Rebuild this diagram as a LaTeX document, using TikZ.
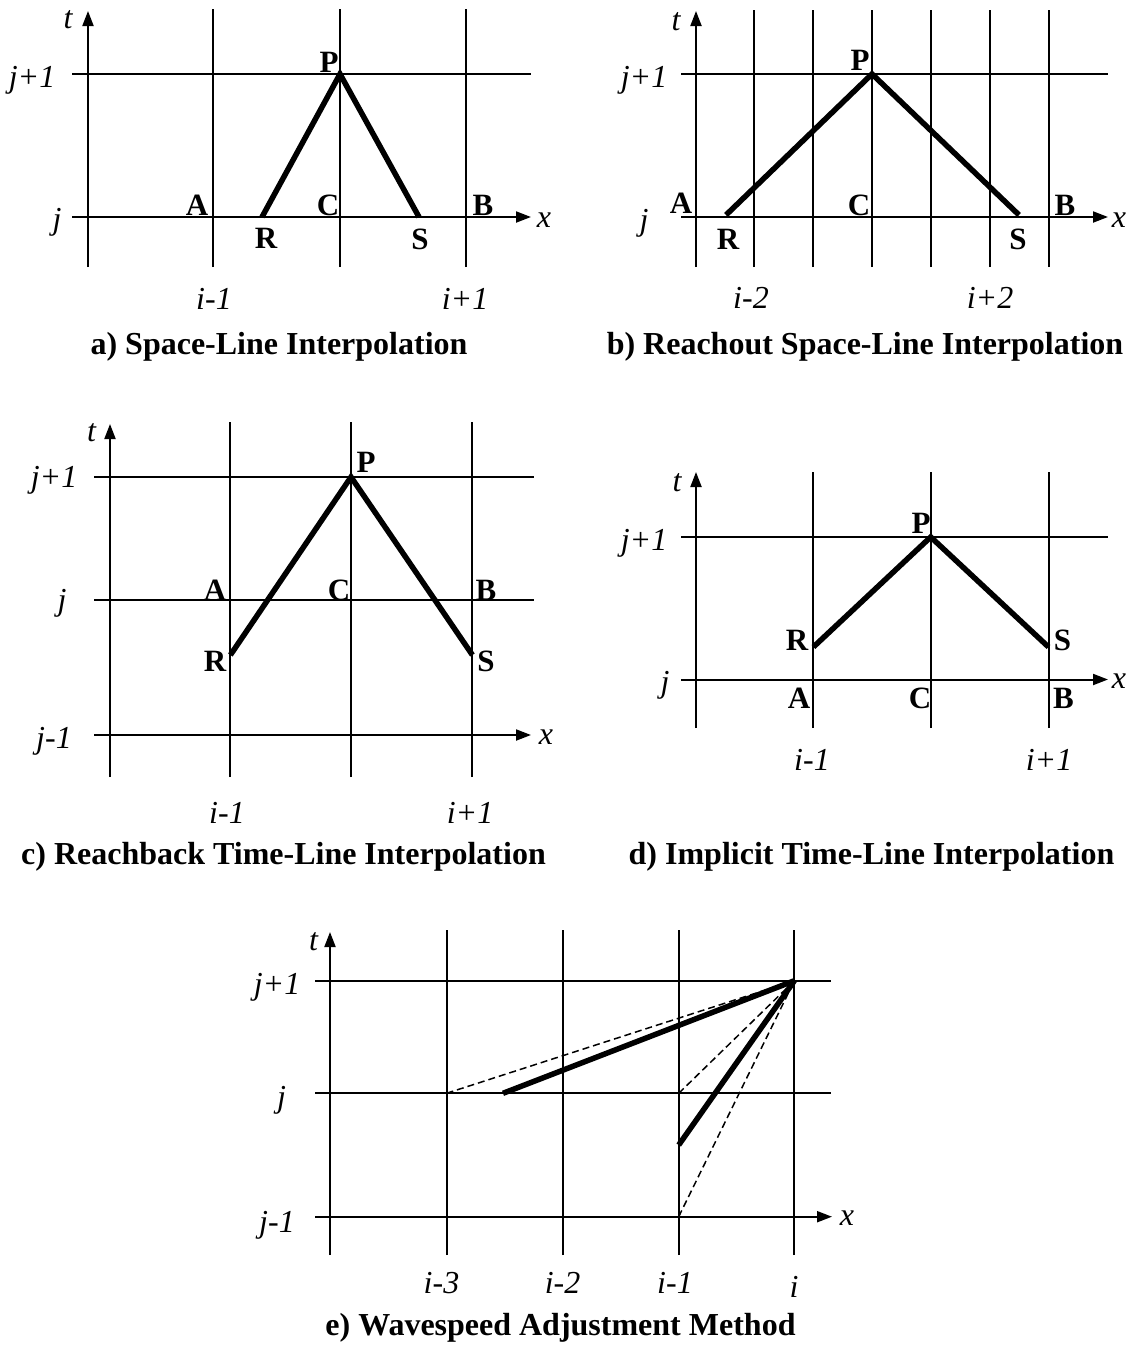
\documentclass[tikz,border=0pt]{standalone}
\usepackage{fontspec}
\setmainfont{Liberation Serif}
\usetikzlibrary{arrows.meta}
\begin{document}
\begin{tikzpicture}[x=1pt,y=-1pt,
  gridline/.style={line width=2pt},
  axisline/.style={line width=2pt,-{Triangle[length=15pt,width=11pt]}},
  charline/.style={line width=5.5pt},
  dashline/.style={line width=1.5pt,dash pattern=on 7pt off 4pt},
  lab/.style={inner sep=0pt,font=\fontsize{32}{32}\selectfont\itshape},
  ptlab/.style={inner sep=0pt,font=\fontsize{31}{31}\selectfont\bfseries},
  caplab/.style={inner sep=0pt,font=\fontsize{32}{32}\selectfont\bfseries}]
\useasboundingbox (0,0) rectangle (1131,1347);

% ---------------- a) ----------------
\foreach \x in {213,340,466} \draw[gridline] (\x,267) -- (\x,9);
\draw[gridline] (72,74) -- (531,74);
\draw[axisline] (88,267) -- (88,11);
\draw[axisline] (72,217) -- (531,217);
\coordinate (aP) at (340,74);
\coordinate (aR) at (262,217);
\coordinate (aS) at (419,217);
\draw[charline] (aR) -- (aP) -- (aS);
\node[lab] (at) at (68,20) {t};
\node[lab] (ajp) at (32,80) {j+1};
\node[lab] (aj) at (57,222) {j};
\node[lab] (ax) at (544,220) {x};
\node[ptlab] (aPl) at (329,62) {P};
\node[ptlab] (aA) at (197,205) {A};
\node[ptlab] (aC) at (328,205) {C};
\node[ptlab] (aB) at (483,205) {B};
\node[ptlab] (aRl) at (266,238) {R};
\node[ptlab] (aSl) at (420,239) {S};
\node[lab] (aim) at (214,299) {i-1};
\node[lab] (aip) at (465,299) {i+1};
\node[caplab] (acap) at (279,347) {a) Space-Line Interpolation};

% ---------------- b) ----------------
\foreach \x in {754,813,872,931,990,1049} \draw[gridline] (\x,267) -- (\x,10);
\draw[gridline] (681,74) -- (1108,74);
\draw[axisline] (696,267) -- (696,11);
\draw[axisline] (681,217) -- (1108,217);
\coordinate (bP) at (872,74);
\coordinate (bR) at (726,215);
\coordinate (bS) at (1019,215);
\draw[charline] (bR) -- (bP) -- (bS);
\node[lab] (bt) at (676,22) {t};
\node[lab] (bjp) at (644,80) {j+1};
\node[lab] (bj) at (644,223) {j};
\node[lab] (bx) at (1119,220) {x};
\node[ptlab] (bPl) at (860,60) {P};
\node[ptlab] (bA) at (681,203) {A};
\node[ptlab] (bC) at (859,205) {C};
\node[ptlab] (bB) at (1065,205) {B};
\node[ptlab] (bRl) at (728,239) {R};
\node[ptlab] (bSl) at (1018,239) {S};
\node[lab] (bim) at (751,298) {i-2};
\node[lab] (bip) at (990,298) {i+2};
\node[caplab] (bcap) at (865,347) {b) Reachout Space-Line Interpolation};

% ---------------- c) ----------------
\foreach \x in {230.4,351,472.4} \draw[gridline] (\x,777) -- (\x,422);
\draw[gridline] (94,477) -- (534,477);
\draw[gridline] (94,600) -- (534,600);
\draw[axisline] (110,777) -- (110,424);
\draw[axisline] (94,735) -- (531,735);
\coordinate (cP) at (351,477);
\coordinate (cR) at (230.4,655);
\coordinate (cS) at (472.4,655);
\draw[charline] (cR) -- (cP) -- (cS);
\node[lab] (ct) at (91.5,433) {t};
\node[lab] (cjp) at (54,480) {j+1};
\node[lab] (cj) at (62,603) {j};
\node[lab] (cjm) at (54,741) {j-1};
\node[lab] (cx) at (546,737) {x};
\node[ptlab] (cPl) at (366,462) {P};
\node[ptlab] (cA) at (215,590) {A};
\node[ptlab] (cC) at (339,590) {C};
\node[ptlab] (cB) at (486,590) {B};
\node[ptlab] (cRl) at (215,661) {R};
\node[ptlab] (cSl) at (486,661) {S};
\node[lab] (cim) at (227,813) {i-1};
\node[lab] (cip) at (470,813) {i+1};
\node[caplab] (ccap) at (283.5,857) {c) Reachback Time-Line Interpolation};

% ---------------- d) ----------------
\foreach \x in {813.4,930.7,1048.5} \draw[gridline] (\x,728) -- (\x,472);
\draw[gridline] (681,537) -- (1108,537);
\draw[axisline] (696,728) -- (696,472);
\draw[axisline] (681,679.5) -- (1108,679.5);
\coordinate (dP) at (930.7,537);
\coordinate (dR) at (813.4,647);
\coordinate (dS) at (1048.5,647);
\draw[charline] (dR) -- (dP) -- (dS);
\node[lab] (dt) at (677,483) {t};
\node[lab] (djp) at (644,543) {j+1};
\node[lab] (dj) at (665,685) {j};
\node[lab] (dx) at (1119,681) {x};
\node[ptlab] (dPl) at (921,523) {P};
\node[ptlab] (dRl) at (797,640) {R};
\node[ptlab] (dSl) at (1062.5,640) {S};
\node[ptlab] (dA) at (799,698) {A};
\node[ptlab] (dC) at (920,698) {C};
\node[ptlab] (dB) at (1063.5,698) {B};
\node[lab] (dim) at (812,760) {i-1};
\node[lab] (dip) at (1049,760) {i+1};
\node[caplab] (dcap) at (871.5,857) {d) Implicit Time-Line Interpolation};

% ---------------- e) ----------------
\foreach \x in {446.5,562.6,678.7,794.4} \draw[gridline] (\x,1255) -- (\x,930);
\draw[gridline] (315,980.7) -- (831,980.7);
\draw[gridline] (315,1093.3) -- (831,1093.3);
\draw[axisline] (330,1255) -- (330,932);
\draw[axisline] (315,1216.7) -- (832,1216.7);
\coordinate (eP) at (794.4,980.7);
\coordinate (eR1) at (503,1093.3);
\coordinate (eR2) at (678.7,1145);
\coordinate (eD1) at (446.5,1093.3);
\coordinate (eD2) at (678.7,1093.3);
\coordinate (eD3) at (678.7,1216.7);
\draw[dashline] (eD1) -- (eP);
\draw[dashline] (eD2) -- (eP);
\draw[dashline] (eD3) -- (eP);
\draw[charline] (eR1) -- (eP);
\draw[charline] (eR2) -- (eP);
\node[lab] (et) at (313.5,942) {t};
\node[lab] (ejp) at (277,987) {j+1};
\node[lab] (ej) at (281.5,1100) {j};
\node[lab] (ejm) at (277,1225) {j-1};
\node[lab] (ex) at (847,1218) {x};
\node[lab] (eim3) at (441.5,1283) {i-3};
\node[lab] (eim2) at (562.6,1283) {i-2};
\node[lab] (eim1) at (675,1283) {i-1};
\node[lab] (ei) at (794,1287) {i};
\node[caplab] (ecap) at (560.5,1328) {e) Wavespeed Adjustment Method};
\end{tikzpicture}
\end{document}
